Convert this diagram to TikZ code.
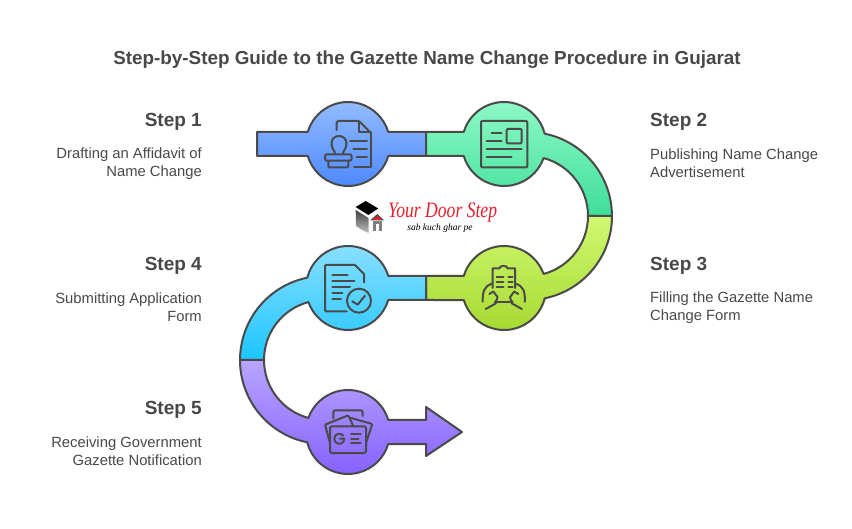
\documentclass[tikz,border=0pt]{standalone}
\usepackage{fontspec}
\setmainfont{Liberation Sans}
\newfontfamily\logofont{Liberation Serif}
\definecolor{inkgray}{HTML}{4A4A4A}
\definecolor{textgray}{HTML}{484848}
\definecolor{logored}{HTML}{E8202A}
\tikzset{
  band/.style={draw=inkgray,line width=2pt,line join=round},
  icon/.style={draw=inkgray,line width=2pt,line cap=round,line join=round},
  pxgrid/.style={y=-1pt,yshift=528pt},
  steptitle/.style={font=\fontsize{19}{22}\selectfont\bfseries,text=textgray,inner sep=0pt},
  steptext/.style={font=\fontsize{14.8}{18}\selectfont,text=textgray,inner sep=0pt},
}
\begin{document}
\begin{tikzpicture}[x=1pt,y=1pt]
 \useasboundingbox (0,0) rectangle (852,528);

 % draw the title
 \node[font=\fontsize{18.85}{22}\selectfont\bfseries,text=textgray,inner sep=0pt] (title) at (427,468) {Step-by-Step Guide to the Gazette Name Change Procedure in Gujarat};

 % draw the five parts of the ribbon
 \path[band,top color={rgb,255:red,150;green,189;blue,255},bottom color={rgb,255:red,74;green,135;blue,255}]
   (257,396) -- (307.75,396) arc[start angle=163.4,end angle=16.6,radius=42] -- (426,396) -- (426,372)
   -- (388.25,372) arc[start angle=-16.6,end angle=-163.4,radius=42] -- (257,372) -- cycle;
 \path[band,top color={rgb,255:red,144;green,250;blue,198},bottom color={rgb,255:red,62;green,222;blue,152}]
   (426,396) -- (463.75,396) arc[start angle=163.4,end angle=14.2,radius=42]
   arc[start angle=78.5,end angle=0,radius=84] -- (588,312)
   arc[start angle=0,end angle=74.96,radius=60]
   arc[start angle=-19.55,end angle=-163.4,radius=42] -- (426,372) -- cycle;
 \path[band,top color={rgb,255:red,208;green,249;blue,114},bottom color={rgb,255:red,165;green,217;blue,47}]
   (612,312) arc[start angle=0,end angle=-78.5,radius=84]
   arc[start angle=-14.2,end angle=-163.4,radius=42] -- (426,228) -- (426,252) -- (463.75,252)
   arc[start angle=163.4,end angle=19.55,radius=42]
   arc[start angle=-74.96,end angle=0,radius=60] -- cycle;
 \path[band,top color={rgb,255:red,140;green,224;blue,255},bottom color={rgb,255:red,28;green,197;blue,255}]
   (426,252) -- (388.25,252) arc[start angle=16.6,end angle=165.8,radius=42]
   arc[start angle=101.5,end angle=180,radius=84] -- (264,168)
   arc[start angle=180,end angle=105.04,radius=60]
   arc[start angle=199.55,end angle=343.4,radius=42] -- (426,228) -- cycle;
 \path[band,top color={rgb,255:red,184;green,165;blue,255},bottom color={rgb,255:red,132;green,96;blue,255}]
   (240,168) arc[start angle=180,end angle=258.5,radius=84]
   arc[start angle=194.2,end angle=343.4,radius=42] -- (426,84) -- (426,72) -- (462,96) -- (426,121) -- (426,108)
   -- (388.25,108) arc[start angle=16.6,end angle=160.45,radius=42]
   arc[start angle=254.96,end angle=180,radius=60] -- cycle;

 % draw the step labels
 \foreach \n/\ypos/\xtext in {1/122/{Drafting an Affidavit of\\Name Change},
                              4/266/{Submitting Application\\Form},
                              5/410/{Receiving Government\\Gazette Notification}} {
   \node[steptitle,anchor=east] (step\n) at (202,528-\ypos) {Step \n};
   \node[steptext,anchor=east,align=right] (text\n) at (202,528-\ypos-41.5) {\xtext};
 }
 \foreach \n/\ypos/\xtext in {2/122/{Publishing Name Change\\Advertisement},
                              3/266/{Filling the Gazette Name\\Change Form}} {
   \node[steptitle,anchor=west] (step\n) at (650,528-\ypos) {Step \n};
   \node[steptext,anchor=west,align=left] (text\n) at (650,528-\ypos-41.5) {\xtext};
 }

 \begin{scope}[pxgrid]
  % icon of step 1
  \draw[icon] (336.7,130) -- (336.7,123) [rounded corners=1.5pt] -- (336.7,121) -- (359,121) [sharp corners] -- (371,133);
  \draw[icon] (359,121) -- (359,132) -- (371,132) -- (371,167.3) -- (354,167.3);
  \foreach \y/\xa in {140.7/350,148.7/353.3,156.7/356.7}
    \draw[icon] (\xa,\y) -- (367,\y);
  \draw[icon] (335,154.3) .. controls (335,150) and (331.5,149) .. (331.5,143.5)
    .. controls (331.5,133.5) and (346.5,133.5) .. (346.5,143.5)
    .. controls (346.5,149) and (343,150) .. (343,154.3);
  \draw[icon,rounded corners=2pt] (325,154.3) rectangle (351.7,160.7);
  \draw[icon,rounded corners=1pt] (328.3,160.7) -- (328.3,167.3) -- (348.3,167.3) -- (348.3,160.7);

  % icon of step 2
  \draw[icon,rounded corners=1pt] (481,121) rectangle (527.3,167.3);
  \draw[icon,rounded corners=1pt] (506.7,129) rectangle (521.7,143.3);
  \draw[icon] (491.7,133.3) -- (501.7,133.3)
              (486.7,141) -- (501.7,141)
              (486.7,148.7) -- (521.7,148.7)
              (486.7,156.7) -- (511.7,156.7);

  % icon of step 3
  \draw[icon] (492.7,288) -- (492.7,268.5) -- (499.3,268.5) .. controls (499.5,265) and (507.5,265) .. (507.7,268.5)
     -- (515,268.5) -- (515,288);
  \draw[icon] (495,302.3) -- (512.5,302.3);
  \foreach \y in {277.3,282.3,287.3}
    \draw[icon] (496.7,\y) -- (503.3,\y) (508.3,\y) -- (512.7,\y);
  \foreach \mx in {0,1} {
   \begin{scope}[shift={(\mx*1007.6,0)},xscale=1-2*\mx]
    \draw[icon] (482.7,301.7) .. controls (482.7,292) and (483.5,286) .. (492.7,283.5);
    \draw[icon] (489.3,294) -- (493.3,291.5) -- (497.5,297) .. controls (498,300) and (496,300) .. (495,302.3);
    \draw[icon] (485.7,309) -- (496,303.3);
   \end{scope}
  }

  % icon of step 4
  \draw[icon,rounded corners=1pt] (346.7,311.3) -- (325,311.3) -- (325,265) -- (355,265);
  \draw[icon] (355,265) -- (364,274) -- (364,282.3);
  \foreach \y/\xb in {274.7/347.7,280.7/354.3,286.7/350,292.7/342.3,298.7/341}
    \draw[icon] (332.3,\y) -- (\xb,\y);
  \draw[icon] (359,300.7) circle[radius=12];
  \draw[icon] (352.3,301.3) -- (357.7,304.7) -- (365,295.7);

  % icon of step 5
  \draw[icon,rounded corners=1.5pt] (333.3,418.5) -- (333.3,410.3) -- (362.7,410.3) -- (362.7,416);
  \draw[icon,rounded corners=1pt] (330,443) -- (325,424.7) -- (348.3,415.3) -- (353.3,426.3);
  \draw[icon,rounded corners=1pt] (351,418) -- (372.3,424) -- (366,443);
  \draw[icon,rounded corners=1.5pt] (330,426.3) rectangle (366,453);
  \draw[icon] (343.3,435.7) .. controls (340,432) and (334.3,434) .. (334.3,438.7)
     .. controls (334.3,443.5) and (340,445.5) .. (343.3,442) -- (344.3,438.7) -- (340,438.7);
  \draw[icon] (351,434) -- (360.7,434) (351,438.7) -- (358.5,438.7) (351,443.3) -- (360.7,443.3);

  % draw the logo
  \fill[black] (355.7,207) -- (365.7,201) -- (378.3,208.5) -- (368.3,215) -- cycle;
  \shade[top color=black!75,bottom color=black!25] (355.7,210) -- (368.5,218) -- (368.5,233) -- (362,230) -- (356,226) -- cycle;
  \fill[inkgray] (370,220.5) -- (377.3,214) -- (384.3,220.5) -- cycle;
  \fill[logored] (372.5,220) -- (377.3,216) -- (381.7,220) -- cycle;
  \fill[gray] (372.5,221.5) rectangle (381.7,231.5);
  \fill[white] (375.5,224.5) rectangle (378.7,231.5);
 \end{scope}
 \node[font=\logofont\itshape\fontsize{22}{22}\selectfont,text=logored,inner sep=0pt,anchor=west] (logotext) at (388,315) {\scalebox{.8}[1]{Your Door Step}};
 \node[font=\logofont\itshape\fontsize{9.5}{9.5}\selectfont,text=black,inner sep=0pt] (logoslogan) at (440,300) {sab kuch ghar pe};
\end{tikzpicture}
\end{document}
